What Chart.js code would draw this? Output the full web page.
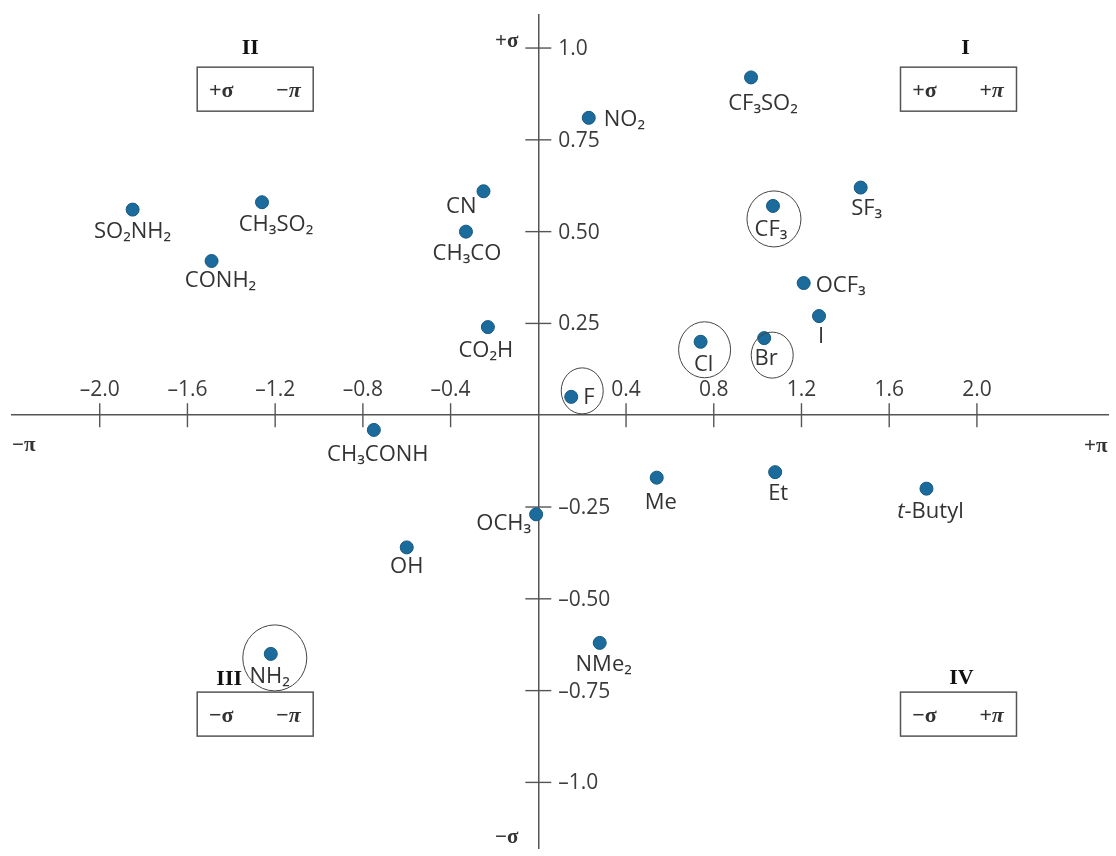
<!DOCTYPE html>
<html>
<head>
<meta charset="utf-8">
<script src="https://cdn.jsdelivr.net/npm/chart.js@4.4.1/dist/chart.umd.min.js"></script>
<style>
  html, body { margin: 0; padding: 0; background: #fff; }
  #wrap { width: 1116px; height: 856px; }
</style>
</head>
<body>
<div id="wrap"><canvas id="craig" width="1116" height="856"></canvas></div>
<script>
// Craig plot: hydrophobicity (pi) against Hammett sigma
const substituents = ['SO₂NH₂', 'CH₃SO₂', 'CONH₂', 'CN', 'CH₃CO', 'CO₂H', 'NO₂', 'CF₃SO₂', 'SF₃', 'CF₃', 'OCF₃', 'I', 'Cl', 'Br', 'F', 'CH₃CONH', 'OCH₃', 'OH', 'NH₂', 'Me', 'Et', 't-Butyl', 'NMe₂'];
const piValues = [-1.85, -1.26, -1.49, -0.25, -0.33, -0.23, 0.23, 0.97, 1.47, 1.07, 1.21, 1.28, 0.74, 1.03, 0.15, -0.75, -0.01, -0.60, -1.22, 0.54, 1.08, 1.77, 0.28];
const sigmaValues = [0.56, 0.58, 0.42, 0.61, 0.50, 0.24, 0.81, 0.92, 0.62, 0.57, 0.36, 0.27, 0.20, 0.21, 0.05, -0.04, -0.27, -0.36, -0.65, -0.17, -0.155, -0.20, -0.62];

const xTickValues = [-2.0, -1.6, -1.2, -0.8, -0.4, 0.4, 0.8, 1.2, 1.6, 2.0];
const xTickLabels = ['–2.0', '–1.6', '–1.2', '–0.8', '–0.4', '0.4', '0.8', '1.2', '1.6', '2.0'];
const yTickValues = [1.0, 0.75, 0.5, 0.25, -0.25, -0.5, -0.75, -1.0];
const yTickLabels = ['1.0', '0.75', '0.50', '0.25', '–0.25', '–0.50', '–0.75', '–1.0'];

const circled = ['CF₃', 'Cl', 'Br', 'F', 'NH₂'];
const quadrants = ['I', 'II', 'III', 'IV'];
const quadrantSigma = ['+σ', '+σ', '−σ', '−σ'];
const quadrantPi = ['+π', '−π', '−π', '+π'];

// label placement next to each dot: [align, dx, baseline dy]
const labelPos = {
  'SO₂NH₂': ['center', 0, 28], 'CH₃SO₂': ['center', 14, 29], 'CONH₂': ['center', 9, 26],
  'CN': ['right', -7, 22], 'CH₃CO': ['center', 1, 28], 'CO₂H': ['center', -2, 30],
  'NO₂': ['left', 15, 8], 'CF₃SO₂': ['center', 12, 33], 'SF₃': ['center', 6, 27],
  'CF₃': ['center', -2, 30], 'OCF₃': ['left', 12, 9], 'I': ['center', 2, 27],
  'Cl': ['center', 3, 29], 'Br': ['center', 2, 27], 'F': ['left', 12, 7],
  'CH₃CONH': ['center', 4, 31], 'OCH₃': ['right', -5, 16], 'OH': ['center', 0, 26],
  'NH₂': ['center', -1, 29], 'Me': ['center', 4, 31], 'Et': ['center', 3, 28],
  't-Butyl': ['center', 4, 29], 'NMe₂': ['center', 4, 28]
};
// ellipses round the highlighted groups: [dx, dy, rx, ry] from the dot
const ringShape = {
  'CF₃': [1, 13, 27, 28], 'Cl': [4, 8, 26, 28], 'Br': [8, 17, 21, 23],
  'F': [11, -6, 21, 23], 'NH₂': [4, 4, 32, 33]
};
// quadrant box centres in data units, numeral offsets in px
const quadAnchor = { I: [1.916, 0.888], II: [-1.291, 0.888], III: [-1.291, -0.814], IV: [1.916, -0.814] };
const numeralShift = { I: [7, -35], II: [-5, -35], III: [-26, -29], IV: [3, -30] };

const axisColor = '#555';
const textColor = '#333';
const sansFont = "'Open Sans', sans-serif";
const serifFont = "'Liberation Serif', 'Times New Roman', serif";

function drawLabel(ctx, text, x, y, align) {
  const base = "22px " + sansFont;
  const parts = text.startsWith('t-') ? [['italic ', 't'], ['', text.slice(1)]] : [['', text]];
  let total = 0;
  const widths = parts.map(([st, s]) => {
    ctx.font = st + base;
    const w = ctx.measureText(s).width;
    total += w;
    return w;
  });
  let cx = align === 'center' ? x - total / 2 : align === 'right' ? x - total : x;
  ctx.textAlign = 'left';
  parts.forEach(([st, s], i) => {
    ctx.font = st + base;
    ctx.fillText(s, cx, y);
    cx += widths[i];
  });
}

const craigDecor = {
  id: 'craigDecor',
  beforeDatasetsDraw(chart) {
    const { ctx, chartArea, scales: { x, y } } = chart;
    const x0 = x.getPixelForValue(0);
    const y0 = y.getPixelForValue(0);
    ctx.save();
    ctx.strokeStyle = axisColor;
    ctx.lineWidth = 1.4;
    ctx.fillStyle = '#3c3c3c';
    ctx.textBaseline = 'alphabetic';
    ctx.font = "21px " + sansFont;

    // crossing tick marks and their labels
    ctx.textAlign = 'center';
    x.ticks.forEach((t, i) => {
      const px = x.getPixelForValue(t.value);
      ctx.beginPath(); ctx.moveTo(px, y0 - 12); ctx.lineTo(px, y0 + 12); ctx.stroke();
      ctx.fillText(xTickLabels[i], px, y0 - 19);
    });
    ctx.textAlign = 'left';
    y.ticks.forEach((t, i) => {
      const py = y.getPixelForValue(t.value);
      ctx.beginPath(); ctx.moveTo(x0 - 13, py); ctx.lineTo(x0 + 13, py); ctx.stroke();
      ctx.fillText(yTickLabels[i], x0 + 20, py + 7);
    });

    // axis end names
    ctx.fillStyle = '#333';
    ctx.font = "bold 21px " + serifFont;
    ctx.textAlign = 'left';
    ctx.fillText('−π', chartArea.left, y0 + 36);
    ctx.textAlign = 'right';
    ctx.fillText('+π', chartArea.right - 1, y0 + 37);
    ctx.fillText('+σ', x0 - 20, y.getPixelForValue(1.0) - 1);
    ctx.fillText('−σ', x0 - 20, chartArea.bottom - 6);

    // quadrant boxes
    quadrants.forEach((q, i) => {
      const cx = x.getPixelForValue(quadAnchor[q][0]);
      const cy = y.getPixelForValue(quadAnchor[q][1]);
      ctx.strokeStyle = '#555';
      ctx.lineWidth = 1.5;
      ctx.strokeRect(cx - 58, cy - 22, 116, 44);
      ctx.fillStyle = '#333';
      ctx.textAlign = 'center';
      ctx.font = "bold 22px " + serifFont;
      ctx.fillText(quadrantSigma[i], cx - 34, cy + 8);
      ctx.font = "italic bold 22px " + serifFont;
      ctx.fillText(quadrantPi[i], cx + 33, cy + 8);
      ctx.fillStyle = '#111';
      ctx.font = "bold 22px " + serifFont;
      ctx.fillText(q, cx + numeralShift[q][0], cy + numeralShift[q][1]);
    });
    ctx.restore();
  },
  afterDatasetsDraw(chart) {
    const { ctx } = chart;
    const pts = chart.getDatasetMeta(0).data;
    ctx.save();
    ctx.fillStyle = textColor;
    ctx.textBaseline = 'alphabetic';
    substituents.forEach((name, i) => {
      const p = pts[i];
      const [align, dx, dy] = labelPos[name];
      drawLabel(ctx, name, p.x + dx, p.y + dy, align);
    });
    ctx.strokeStyle = '#444';
    ctx.lineWidth = 1;
    circled.forEach(name => {
      const p = pts[substituents.indexOf(name)];
      const [dx, dy, rx, ry] = ringShape[name];
      ctx.beginPath();
      ctx.ellipse(p.x + dx, p.y + dy, rx, ry, 0, 0, Math.PI * 2);
      ctx.stroke();
    });
    ctx.restore();
  }
};

const points = substituents.map((name, i) => ({ x: piValues[i], y: sigmaValues[i] }));

new Chart(document.getElementById('craig'), {
  type: 'scatter',
  data: {
    datasets: [{
      label: 'substituents',
      data: points,
      pointRadius: 6.5,
      pointBackgroundColor: '#1b6c9d',
      pointBorderColor: '#15577f',
      pointBorderWidth: 1
    }]
  },
  options: {
    responsive: false,
    animation: false,
    layout: { padding: { left: 12, right: 5, top: 15, bottom: 0 } },
    plugins: {
      legend: { display: false },
      tooltip: { enabled: false }
    },
    scales: {
      x: {
        type: 'linear',
        min: -2.4,
        max: 2.6,
        position: { y: 0 },
        grid: { display: false },
        border: { color: axisColor, width: 1.5 },
        ticks: { display: false },
        afterBuildTicks: (scale) => { scale.ticks = xTickValues.map(v => ({ value: v })); }
      },
      y: {
        type: 'linear',
        min: -1.18,
        max: 1.09,
        position: { x: 0 },
        grid: { display: false },
        border: { color: axisColor, width: 1.5 },
        ticks: { display: false },
        afterBuildTicks: (scale) => { scale.ticks = yTickValues.map(v => ({ value: v })); }
      }
    }
  },
  plugins: [craigDecor]
});
</script>
</body>
</html>
